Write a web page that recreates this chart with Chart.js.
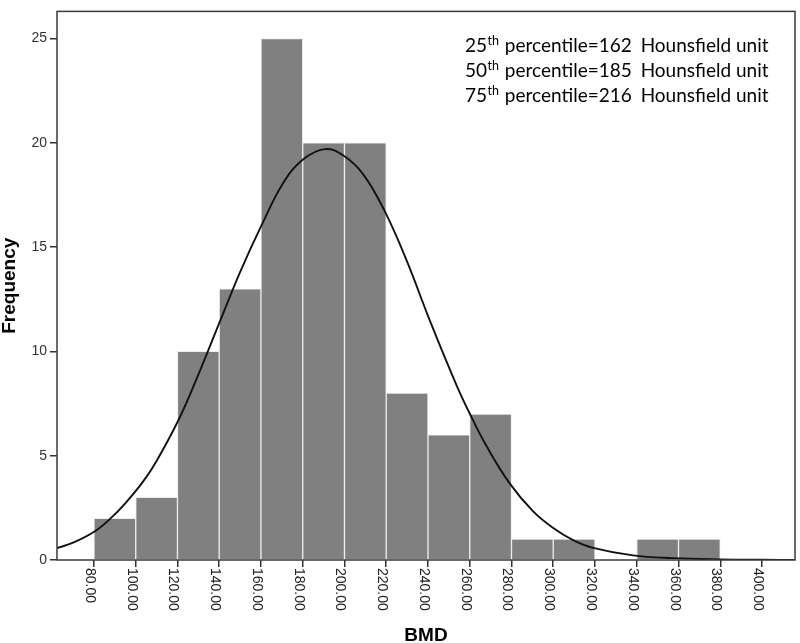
<!DOCTYPE html>
<html>
<head>
<meta charset="utf-8">
<script src="https://cdn.jsdelivr.net/npm/chart.js@4"></script>
<style>
  html, body { margin: 0; padding: 0; background: #fff; }
  canvas { display: block; }
</style>
</head>
<body>
<canvas id="c" width="800" height="643"></canvas>
<script>
// ---- Data ----
const binCenters = [90, 110, 130, 150, 170, 190, 210, 230, 250, 270, 290, 310, 330, 350, 370];
const frequencies = [2, 3, 10, 13, 25, 20, 20, 8, 6, 7, 1, 1, 0, 1, 1];

const curveX = [62.3, 70, 80.5, 87.7, 95, 103.6, 110, 120.2, 128.4, 140.4, 150, 160.3, 170.5, 180.1, 190.7, 199.3, 208.9, 219.4, 229.8, 241, 253.8, 260.1, 268.1, 279.3, 290.4, 300, 309.5, 319.1, 338.2, 357.4, 380, 400, 415.8];
const curveY = [0.57, 0.83, 1.38, 1.97, 2.72, 3.77, 4.75, 6.65, 8.5, 11.45, 13.8, 16.05, 18.05, 19.2, 19.7, 19.4, 18.5, 16.7, 14.35, 11.45, 8.35, 7.0, 5.45, 3.65, 2.33, 1.53, 0.95, 0.58, 0.22, 0.09, 0.03, 0.01, 0.005];

const xTickValues = [80, 100, 120, 140, 160, 180, 200, 220, 240, 260, 280, 300, 320, 340, 360, 380, 400];
const xTickLabels = ['80.00', '100.00', '120.00', '140.00', '160.00', '180.00', '200.00', '220.00', '240.00', '260.00', '280.00', '300.00', '320.00', '340.00', '360.00', '380.00', '400.00'];
const yTickValues = [0, 5, 10, 15, 20, 25];

const xAxisTitle = 'BMD';
const yAxisTitle = 'Frequency';
const noteOrdinals = ['25', '50', '75'];
const noteSuffix = 'th';
const noteValues = ['162', '185', '216'];
const noteUnit = 'Hounsfield unit';

const barData = binCenters.map((x, i) => ({ x: x, y: frequencies[i] }));
const curveData = curveX.map((x, i) => ({ x: x, y: curveY[i] }));

const decorPlugin = {
  id: 'decor',
  afterDraw(chart) {
    const ctx = chart.ctx;
    const a = chart.chartArea;
    const xs = chart.scales.x;
    ctx.save();
    // frame
    ctx.strokeStyle = '#3a3a3a';
    ctx.lineWidth = 1.5;
    ctx.strokeRect(a.left, a.top, a.right - a.left, a.bottom - a.top);

    // rotated x tick labels (clockwise)
    ctx.fillStyle = '#222';
    ctx.font = '14px "Liberation Sans", Arial, sans-serif';
    ctx.textAlign = 'left';
    ctx.textBaseline = 'alphabetic';
    xTickValues.forEach((v, i) => {
      const px = xs.getPixelForValue(v);
      ctx.save();
      ctx.translate(px, a.bottom + 8);
      ctx.rotate(Math.PI / 2);
      ctx.fillText(xTickLabels[i], 0, 8);
      ctx.restore();
    });

    // axis titles
    ctx.fillStyle = '#000';
    ctx.font = 'bold 19px "Liberation Sans", Arial, sans-serif';
    ctx.textAlign = 'center';
    ctx.textBaseline = 'alphabetic';
    ctx.fillText(xAxisTitle, (a.left + a.right) / 2, 641);
    ctx.save();
    ctx.translate(15, (a.top + a.bottom) / 2);
    ctx.rotate(-Math.PI / 2);
    ctx.fillText(yAxisTitle, 0, 0);
    ctx.restore();

    // percentile notes
    ctx.textAlign = 'left';
    const mainFont = '19px Lato, "Open Sans", sans-serif';
    const supFont = '12.5px Lato, "Open Sans", sans-serif';
    noteOrdinals.forEach((o, i) => {
      const y = 52 + i * 25;
      let x = 465;
      ctx.font = mainFont;
      ctx.fillText(o, x, y);
      x += ctx.measureText(o).width + 0.5;
      ctx.font = supFont;
      ctx.fillText(noteSuffix, x, y - 7.5);
      x += ctx.measureText(noteSuffix).width + 1;
      ctx.font = mainFont;
      const t1 = ' percentile=' + noteValues[i];
      ctx.fillText(t1, x, y);
      x += ctx.measureText(t1).width + 4;
      ctx.fillText(' ' + noteUnit, x, y);
    });
    ctx.restore();
  }
};

new Chart(document.getElementById('c'), {
  data: {
    datasets: [
      {
        type: 'line',
        data: curveData,
        borderColor: '#111',
        borderWidth: 1.9,
        pointRadius: 0,
        fill: false,
        tension: 0.4,
        order: 0
      },
      {
        type: 'bar',
        data: barData,
        backgroundColor: '#808080',
        borderColor: '#ececec',
        borderWidth: 1,
        barPercentage: 1,
        categoryPercentage: 1,
        grouped: false,
        order: 1
      }
    ]
  },
  options: {
    responsive: false,
    animation: false,
    events: [],
    layout: { padding: { top: 2, right: 5, left: 0, bottom: 0 } },
    plugins: { legend: { display: false }, tooltip: { enabled: false } },
    scales: {
      x: {
        type: 'linear',
        offset: false,
        min: 62.3,
        max: 415.8,
        afterBuildTicks: (s) => { s.ticks = xTickValues.map(v => ({ value: v })); },
        afterFit: (s) => { s.height = 83; },
        ticks: { display: false },
        grid: { offset: false, drawOnChartArea: false, drawTicks: true, tickLength: 7, color: '#333', lineWidth: 1.5 },
        border: { display: false }
      },
      y: {
        type: 'linear',
        min: 0,
        max: 26.3,
        afterBuildTicks: (s) => { s.ticks = yTickValues.map(v => ({ value: v })); },
        afterFit: (s) => { s.width = 57; },
        ticks: { color: '#333', padding: 3, font: { family: '"Liberation Sans", Arial, sans-serif', size: 14 } },
        grid: { drawOnChartArea: false, drawTicks: true, tickLength: 7, color: '#333', lineWidth: 1.5 },
        border: { display: false }
      }
    }
  },
  plugins: [decorPlugin]
});
</script>
</body>
</html>
